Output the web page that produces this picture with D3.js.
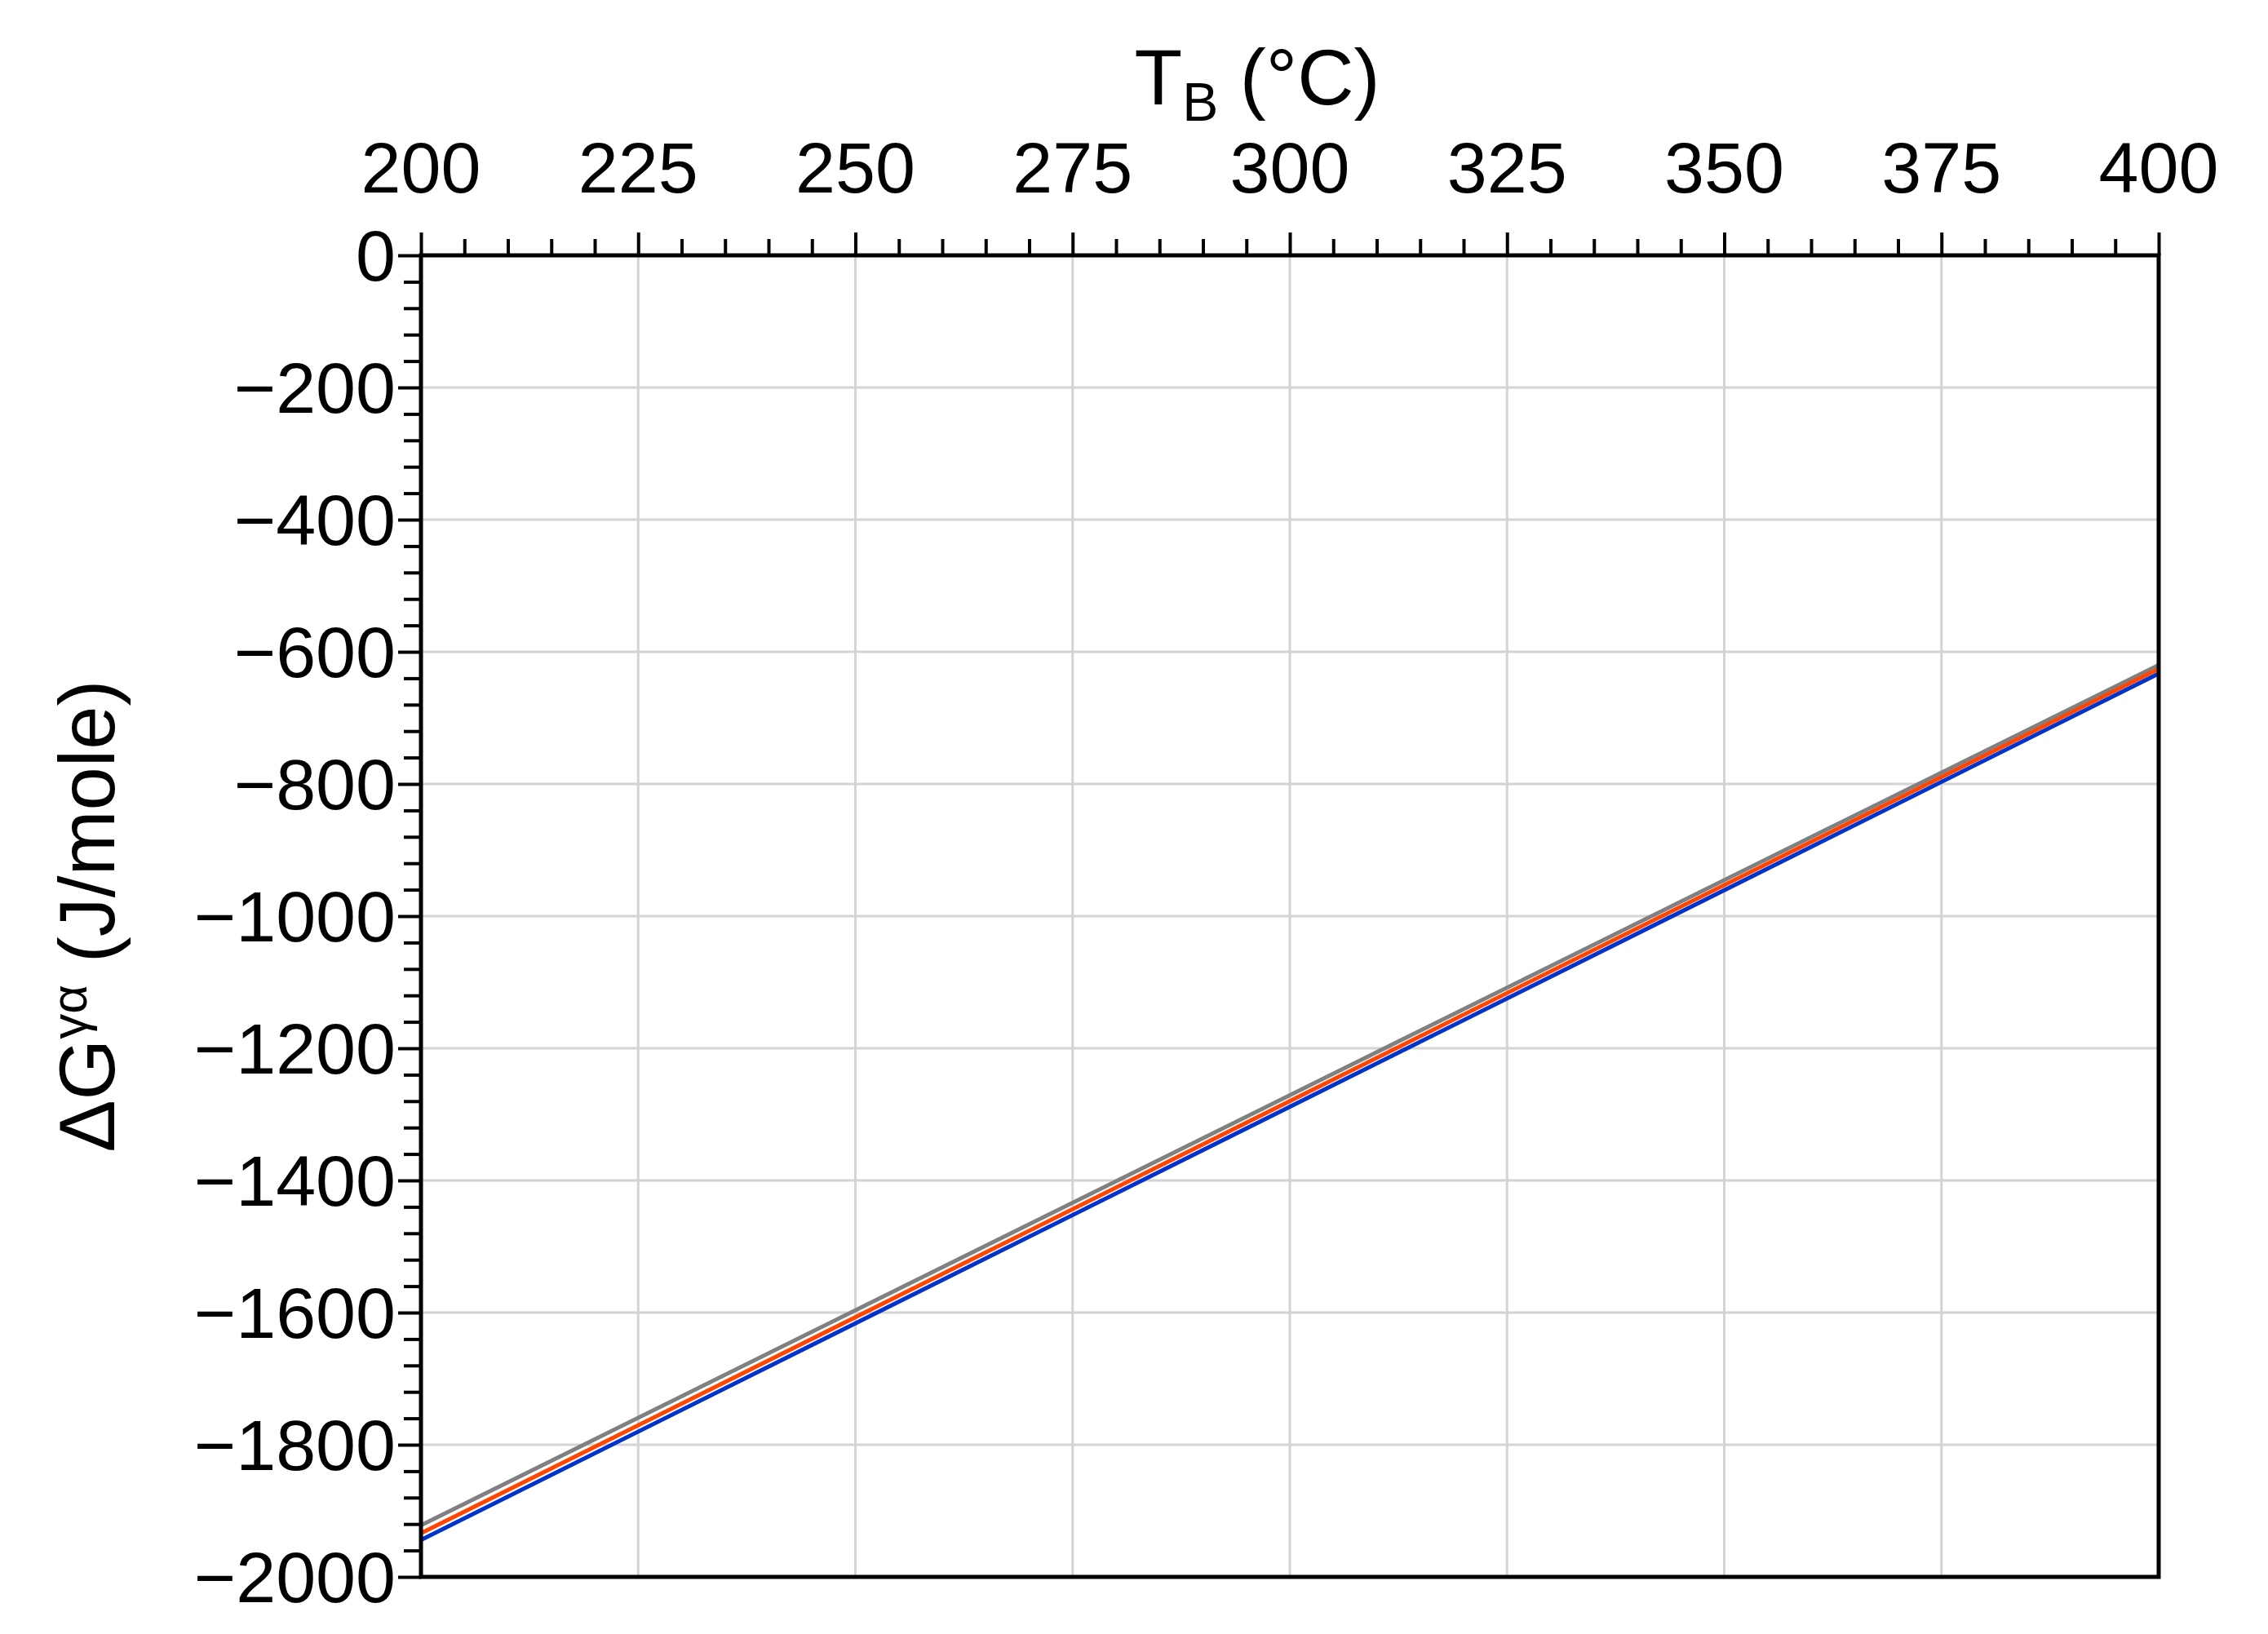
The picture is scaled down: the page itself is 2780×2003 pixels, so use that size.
<!DOCTYPE html><html><head><meta charset="utf-8">
<script src="https://cdn.jsdelivr.net/npm/d3@7"></script>
<style>body{margin:0;background:#fff}text{font-family:"Liberation Sans",Arial,sans-serif}</style></head><body>
<svg id="c" width="2780" height="2003"></svg>
<script>
const temps=[200,400];
const gray=[-1922,-620];
const orange=[-1934,-626];
const blue=[-1944,-633];
const xTicks=[200,225,250,275,300,325,350,375,400];
const yTicks=[0,-200,-400,-600,-800,-1000,-1200,-1400,-1600,-1800,-2000];
const L=516,R=2646,T=313,B=1933;
const svg=d3.select("#c");
const x=d3.scaleLinear().domain([200,400]).range([L,R]);
const y=d3.scaleLinear().domain([-2000,0]).range([B,T]);
const g=svg.append("g");
xTicks.forEach(t=>g.append("line").attr("x1",x(t)).attr("x2",x(t)).attr("y1",T).attr("y2",B).attr("stroke","#d4d4d4").attr("stroke-width",3));
yTicks.forEach(t=>g.append("line").attr("x1",L).attr("x2",R).attr("y1",y(t)).attr("y2",y(t)).attr("stroke","#d4d4d4").attr("stroke-width",3));
const line=d3.line().x((d,i)=>x(temps[i])).y(d=>y(d));
[[gray,"#808080"],[orange,"#ff4500"],[blue,"#0033cc"]].forEach(([s,c])=>svg.append("path").attr("d",line(s)).attr("fill","none").attr("stroke",c).attr("stroke-width",5));
const xa=d3.axisTop(x).tickValues(d3.range(200,401,5)).tickSize(0).tickFormat("");
const gx=svg.append("g").attr("transform",`translate(0,${T})`).call(xa);
gx.selectAll(".tick line").attr("y2",d=>d%25===0?-28:-20).attr("stroke","#000").attr("stroke-width",4);
gx.select(".domain").remove();
xTicks.forEach(t=>svg.append("text").attr("x",x(t)).attr("y",236).attr("text-anchor","middle").attr("font-size",88).text(t));
const ya=d3.axisLeft(y).tickValues(d3.range(-2000,1,40)).tickSize(0).tickFormat("");
const gy=svg.append("g").attr("transform",`translate(${L},0)`).call(ya);
gy.selectAll(".tick line").attr("x2",d=>d%200===0?-28:-21).attr("stroke","#000").attr("stroke-width",4);
gy.select(".domain").remove();
yTicks.forEach(t=>svg.append("text").attr("x",485).attr("y",y(t)+31).attr("text-anchor","end").attr("font-size",88).text(t===0?"0":"\u2212"+Math.abs(t)));
svg.append("rect").attr("x",L).attr("y",T).attr("width",R-L).attr("height",B-T).attr("fill","none").attr("stroke","#000").attr("stroke-width",5);
const tx=svg.append("text").attr("x",1541).attr("y",128).attr("text-anchor","middle").attr("font-size",96);
tx.append("tspan").text("T");tx.append("tspan").attr("font-size",66).attr("dy",20).text("B");tx.append("tspan").attr("dy",-20).text(" (°C)");
const ty=svg.append("text").attr("transform","translate(140,1123) rotate(-90)").attr("text-anchor","middle").attr("font-size",96);
ty.append("tspan").text("ΔG");ty.append("tspan").attr("font-size",62).attr("dy",-34).text("γα");ty.append("tspan").attr("dy",34).text(" (J/mole)");
</script></body></html>
